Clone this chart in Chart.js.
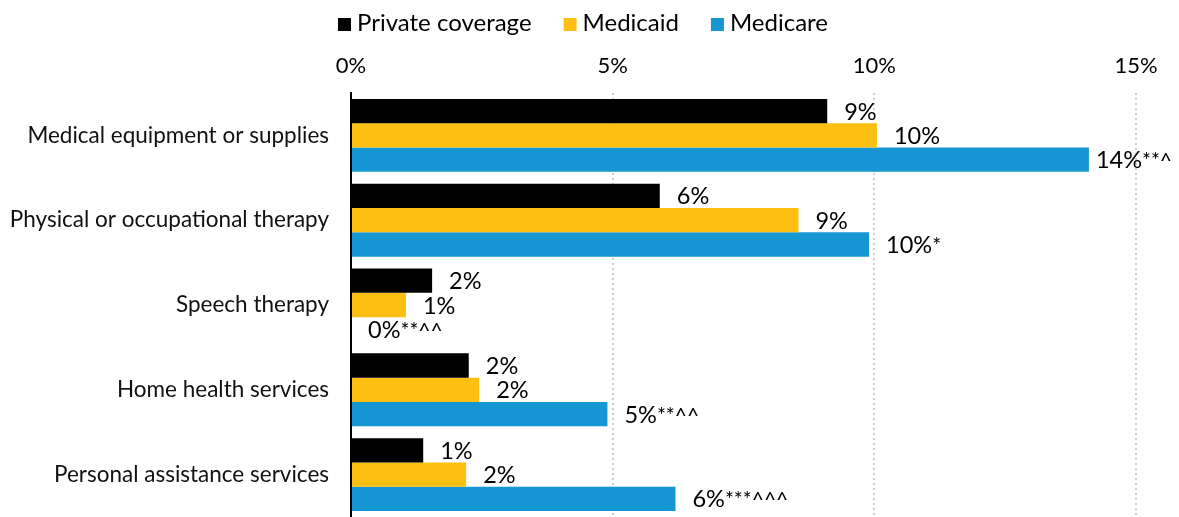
<!DOCTYPE html>
<html>
<head>
<meta charset="utf-8">
<script src="https://cdn.jsdelivr.net/npm/chart.js@4.4.1/dist/chart.umd.min.js"></script>
<style>
  html, body { margin: 0; padding: 0; background: #fff; overflow: hidden; }
  canvas { display: block; }
</style>
</head>
<body>
<canvas id="services" width="1179" height="517"></canvas>
<script>
const categories = [
    'Medical equipment or supplies',
    'Physical or occupational therapy',
    'Speech therapy',
    'Home health services',
    'Personal assistance services'
];
const privateCoverage = [9.1, 5.9, 1.55, 2.25, 1.38];
const medicaid = [10.05, 8.55, 1.05, 2.45, 2.2];
const medicare = [14.1, 9.9, 0, 4.9, 6.2];

// significance markers printed after each value
const privateNotes = ['', '', '', '', ''];
const medicaidNotes = ['', '', '', '', ''];
const medicareNotes = ['**^', '*', '**^^', '**^^', '***^^^'];

const xTicks = [0, 5, 10, 15];

const FONT = 'Lato, "Noto Sans", sans-serif';

// legend row across the top: square swatch + series name
const topLegend = {
    id: 'topLegend',
    afterDraw(chart) {
        const ctx = chart.ctx;
        const box = 13, gap = 6, itemGap = 32;
        ctx.save();
        ctx.font = '24px ' + FONT;
        ctx.textBaseline = 'alphabetic';
        const items = chart.data.datasets.map(ds => ({
            text: ds.label, color: ds.backgroundColor, w: ctx.measureText(ds.label).width
        }));
        const total = items.reduce((s, it) => s + box + gap + it.w, 0) + itemGap * (items.length - 1);
        let x = 583 - total / 2;
        const base = 31;
        items.forEach(it => {
            ctx.fillStyle = it.color;
            ctx.fillRect(x, base - box, box, box);
            ctx.fillStyle = '#000';
            ctx.fillText(it.text, x + box + gap, base);
            x += box + gap + it.w + itemGap;
        });
        ctx.restore();
    }
};

// value label at the end of each bar, markers after it
const barLabels = {
    id: 'barLabels',
    afterDatasetsDraw(chart) {
        const ctx = chart.ctx;
        const maxRight = 1172;
        ctx.save();
        ctx.textBaseline = 'alphabetic';
        chart.data.datasets.forEach((ds, di) => {
            const meta = chart.getDatasetMeta(di);
            meta.data.forEach((bar, i) => {
                const main = Math.round(ds.data[i]) + '%';
                const note = ds.notes[i];
                ctx.font = '23.5px ' + FONT;
                const w1 = ctx.measureText(main).width;
                ctx.font = '21px ' + FONT;
                const w2 = note ? ctx.measureText(note).width : 0;
                let x = bar.x + 17;
                if (x + w1 + w2 > maxRight) x = maxRight - w1 - w2;
                const y = bar.y + 8.5;
                ctx.fillStyle = '#000';
                ctx.font = '23.5px ' + FONT;
                ctx.fillText(main, x, y);
                if (note) {
                    ctx.font = '21px ' + FONT;
                    ctx.fillText(note, x + w1, y);
                }
            });
        });
        ctx.restore();
    }
};

const data = {
    labels: categories,
    datasets: [
        { label: 'Private coverage', data: privateCoverage, notes: privateNotes, backgroundColor: '#000000' },
        { label: 'Medicaid', data: medicaid, notes: medicaidNotes, backgroundColor: '#fdbf11' },
        { label: 'Medicare', data: medicare, notes: medicareNotes, backgroundColor: '#1696d2' }
    ]
};

const options = {
    indexAxis: 'y',
    responsive: false,
    animation: false,
    layout: { padding: { top: 52, right: 43, left: 0, bottom: 0 } },
    datasets: { bar: { categoryPercentage: 0.86, barPercentage: 1.0 } },
    plugins: {
        tooltip: { enabled: false },
        legend: { display: false }
    },
    scales: {
        x: {
            position: 'top',
            min: 0,
            max: 15,
            afterBuildTicks: (s) => { s.ticks = xTicks.map(v => ({ value: v })); },
            afterFit: (s) => { s.height = 41; },
            ticks: {
                padding: 14,
                color: '#000',
                font: { family: FONT, size: 22 },
                callback: (v) => v + '%'
            },
            grid: {
                drawTicks: false,
                lineWidth: 2,
                color: (c) => c.tick && c.tick.value === 0 ? 'rgba(0,0,0,0)' : '#cfcfcf'
            },
            border: { display: false, dash: [2, 3] }
        },
        y: {
            afterFit: (s) => { s.width = 351; s.paddingTop = 0; s.paddingBottom = 0; },
            ticks: {
                padding: 22,
                color: '#111',
                font: { family: FONT, size: 22.5 }
            },
            grid: { display: false, drawTicks: false },
            border: { display: true, color: '#000', width: 2 }
        }
    }
};

const ctx = document.getElementById('services').getContext('2d');
new Chart(ctx, { type: 'bar', data: data, options: options, plugins: [barLabels, topLegend] });
</script>
</body>
</html>
